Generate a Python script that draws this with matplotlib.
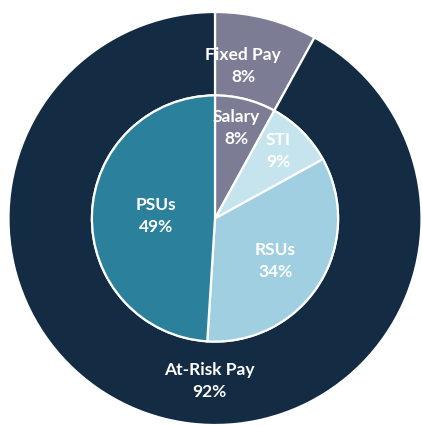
import matplotlib

matplotlib.use("Agg")
import matplotlib.pyplot as plt

# outer ring: fixed vs at-risk pay
outer_labels = ["Fixed Pay", "At-Risk Pay"]
outer_values = [8, 92]
outer_colors = ["#7c7d95", "#132c43"]

# inner pie: pay components
inner_labels = ["Salary", "STI", "RSUs", "PSUs"]
inner_values = [8, 9, 34, 49]
inner_colors = ["#7c7d95", "#c6e4ee", "#9fcfe0", "#2b819c"]

# label anchor points (data coords, radius = 1)
outer_text_pos = [(0.136, 0.738), (-0.029, -0.787)]
inner_text_pos = [(0.102, 0.438), (0.305, 0.327), (0.291, -0.206), (-0.286, 0.012)]

plt.rcParams["font.family"] = ["Lato", "DejaVu Sans"]

fig = plt.figure(figsize=(4.22, 4.26), dpi=100)
ax = fig.add_axes([8.5 / 422, 1 / 426, 413 / 422, 413 / 426])
ax.set_xlim(-1, 1)
ax.set_ylim(-1, 1)
ax.set_aspect("equal")
ax.axis("off")

inner_r = 0.596
wp = dict(edgecolor="white", linewidth=1.6)
ax.pie(outer_values, colors=outer_colors, radius=1.0, startangle=90,
       counterclock=False, wedgeprops=dict(width=1 - inner_r, **wp))
ax.pie(inner_values, colors=inner_colors, radius=inner_r, startangle=90,
       counterclock=False, wedgeprops=wp)
ax.set_xlim(-1, 1)
ax.set_ylim(-1, 1)

for lab, v, (x, y) in zip(outer_labels + inner_labels,
                          outer_values + inner_values,
                          outer_text_pos + inner_text_pos):
    ax.text(x, y, f"{lab}\n{v}%", ha="center", va="center", color="white",
            fontsize=12.5, fontweight="bold", linespacing=1.45)

fig.savefig("out.png", dpi=100)
